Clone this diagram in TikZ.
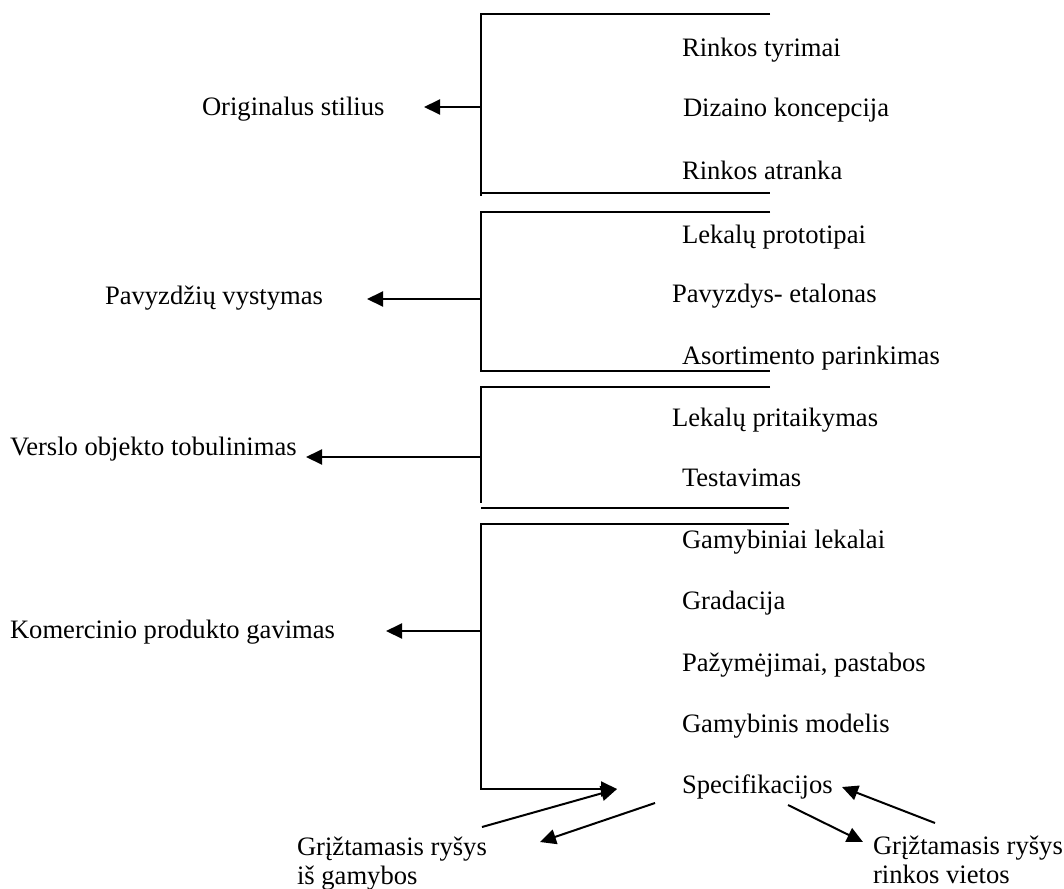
\documentclass[tikz,border=0pt]{standalone}
\usepackage{fontspec}
\setmainfont{Liberation Serif}
\usetikzlibrary{arrows.meta}
\begin{document}
\begin{tikzpicture}[x=1pt,y=-1pt,
  every node/.style={inner sep=0pt,outer sep=0pt,font=\fontsize{26.6}{32}\selectfont},
  lbl/.style={anchor=base west},
  ln/.style={line width=2pt},
  arr/.style={line width=2pt,-{Triangle[length=16pt,width=15pt]}}]
\useasboundingbox (0,0) rectangle (1064,888);
% brackets
\draw[ln] (770,14) -- (481,14) -- (481,196);
\draw[ln] (481,193) -- (770,193);
\draw[ln] (770,212) -- (481,212) -- (481,371) -- (770,371);
\draw[ln] (770,387) -- (481,387) -- (481,503);
\draw[ln] (481,508) -- (789,508);
\draw[ln] (789,524) -- (481,524) -- (481,790);
% left labels
\node[lbl] (o) at (202,116) {Originalus stilius};
\node[lbl] (p) at (105,304) {Pavyzdžių vystymas};
\node[lbl] (v) at (10,455) {Verslo objekto tobulinimas};
\node[lbl] (k) at (10,638) {Komercinio produkto gavimas};
% right labels
\node[lbl] (r1) at (682,57) {Rinkos tyrimai};
\node[lbl] (r2) at (683,117) {Dizaino koncepcija};
\node[lbl] (r3) at (682,179) {Rinkos atranka};
\node[lbl] (p1) at (682,243) {Lekalų prototipai};
\node[lbl] (p2) at (672,302) {Pavyzdys- etalonas};
\node[lbl] (p3) at (682,364) {Asortimento parinkimas};
\node[lbl] (v1) at (672,426) {Lekalų pritaikymas};
\node[lbl] (v2) at (682,486) {Testavimas};
\node[lbl] (k1) at (682,548) {Gamybiniai lekalai};
\node[lbl] (k2) at (682,609) {Gradacija};
\node[lbl] (k3) at (682,671) {Pažymėjimai, pastabos};
\node[lbl] (k4) at (682,732) {Gamybinis modelis};
\node[lbl] (spec) at (682,793) {Specifikacijos};
\node[lbl] (g1) at (297,855) {Grįžtamasis ryšys};
\node[lbl] (g1b) at (297,884) {iš gamybos};
\node[lbl] (g2) at (873,854) {Grįžtamasis ryšys};
\node[lbl] (g2b) at (873,883) {rinkos vietos};
% coordinates
\coordinate (a1) at (481,107);
\coordinate (t1) at (424,107);
\coordinate (a2) at (481,299);
\coordinate (t2) at (367,299);
\coordinate (a3) at (481,457);
\coordinate (t3) at (306,457);
\coordinate (a4) at (481,631);
\coordinate (t4) at (386,631);
\coordinate (b0) at (481,789);
\coordinate (bt) at (617,789);
\coordinate (s1) at (482,827);
\coordinate (s2) at (655,803);
\coordinate (s2t) at (540,842);
\coordinate (s3) at (935,823);
\coordinate (s3t) at (842,787);
\coordinate (s4) at (788,805);
\coordinate (s4t) at (863,842);
% arrows
\draw[arr] (a1) -- (t1);
\draw[arr] (a2) -- (t2);
\draw[arr] (a3) -- (t3);
\draw[arr] (a4) -- (t4);
\draw[arr] (b0) -- (bt);
\draw[arr] (s1) -- (bt);
\draw[arr] (s2) -- (s2t);
\draw[arr] (s3) -- (s3t);
\draw[arr] (s4) -- (s4t);
\end{tikzpicture}
\end{document}
